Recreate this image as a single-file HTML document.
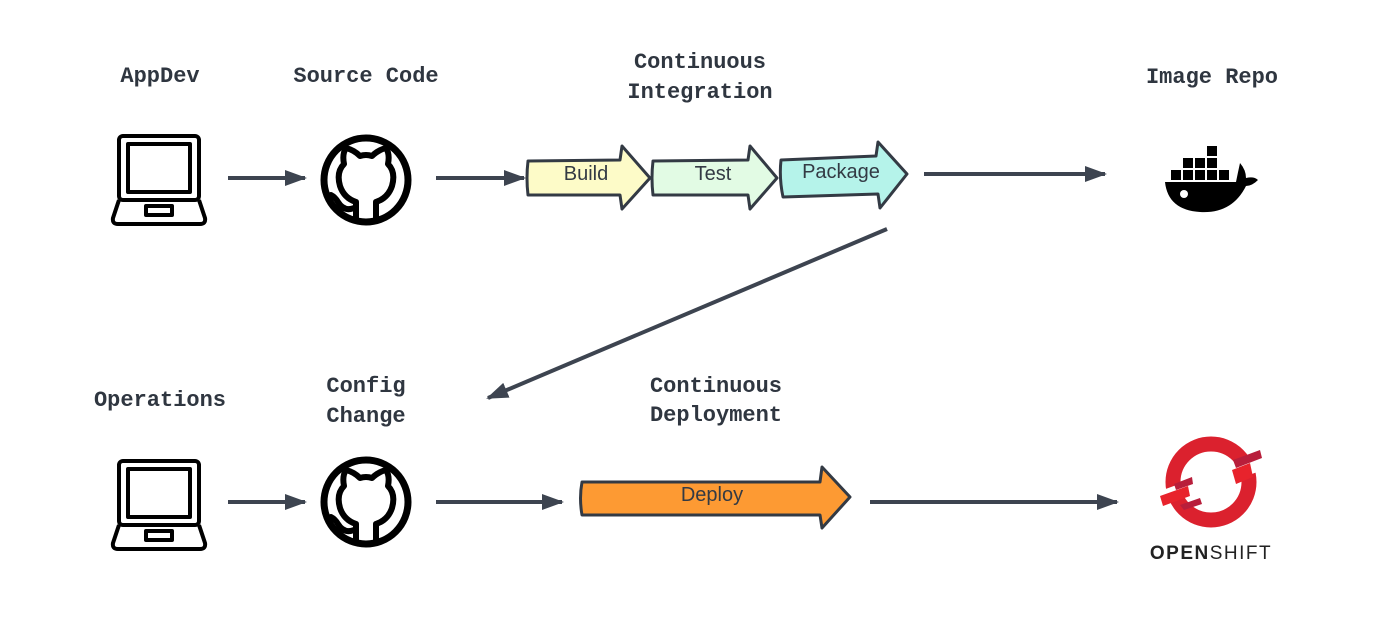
<!DOCTYPE html>
<html><head><style>body{margin:0;background:#fff}svg{display:block}</style></head><body>
<svg width="1388" height="628" viewBox="0 0 1388 628" xmlns="http://www.w3.org/2000/svg">
<defs>
<marker id="ah" markerWidth="22" markerHeight="16" refX="20" refY="8" orient="auto" markerUnits="userSpaceOnUse" viewBox="0 0 22 16"><path d="M0,0 L22,8 L0,16z" fill="#3d4450"/></marker>
<g id="laptop" fill="none" stroke="#000" stroke-width="4" stroke-linejoin="round">
<rect x="8" y="2" width="80" height="64" rx="4"/>
<rect x="17" y="10" width="62" height="48"/>
<path d="M8,66 L2,84 Q1,90 7,90 L89,90 Q95,90 94,84 L88,66"/>
<rect x="35" y="72" width="26" height="9"/>
</g>
<g id="gh">
<circle cx="0" cy="0" r="42" fill="none" stroke="#000" stroke-width="7"/>
<path d="M-10,40 L-10,22 Q-22,18 -26,6 Q-30,-8 -22,-16 Q-24,-26 -20,-32 Q-12,-30 -6,-24 Q0,-26 6,-24 Q12,-30 20,-32 Q24,-26 22,-16 Q30,-8 26,6 Q22,18 10,22 L10,40" fill="none" stroke="#000" stroke-width="6" stroke-linejoin="round"/>
<path d="M-12,28 Q-22,32 -28,22 Q-31,17 -35,15" fill="none" stroke="#000" stroke-width="6" stroke-linecap="round"/>
</g>
</defs>
<g font-family="Liberation Mono, monospace" font-weight="bold" font-size="22" fill="#2f3640" text-anchor="middle">
<text x="160" y="82">AppDev</text>
<text x="366" y="82">Source Code</text>
<text x="700" y="68">Continuous</text>
<text x="700" y="98">Integration</text>
<text x="1212" y="83">Image Repo</text>
<text x="160" y="406">Operations</text>
<text x="366" y="392">Config</text>
<text x="366" y="422">Change</text>
<text x="716" y="392">Continuous</text>
<text x="716" y="421">Deployment</text>
</g>
<use href="#laptop" x="111" y="134"/>
<use href="#laptop" x="111" y="459"/>
<use href="#gh" x="366" y="180"/>
<use href="#gh" x="366" y="502"/>
<g stroke="#3d4450" stroke-width="4" fill="none" marker-end="url(#ah)">
<line x1="228" y1="178" x2="305" y2="178"/>
<line x1="436" y1="178" x2="524" y2="178"/>
<line x1="924" y1="174" x2="1105" y2="174"/>
<line x1="887" y1="229" x2="488" y2="398"/>
<line x1="228" y1="502" x2="305" y2="502"/>
<line x1="436" y1="502" x2="562" y2="502"/>
<line x1="870" y1="502" x2="1117" y2="502"/>
</g>
<g stroke="#333a44" stroke-width="3" stroke-linejoin="round">
<path d="M528,161 L620,160 L622,146 L650,178 L622,209 L620,195 L528,195 Q526,178 528,161z" fill="#fdfbc8"/>
<path d="M653,161 L748,160 L750,146 L777,178 L750,209 L748,195 L653,195 Q651,178 653,161z" fill="#e2fbe4"/>
<path d="M781,160 L876,156 L878,142 L907,174 L880,208 L878,194 L783,197 Q779,178 781,160z" fill="#b5f3ea"/>
<path d="M582,482 L820,482 L822,467 L850,497 L822,528 L820,515 L582,515 Q579,498 582,482z" fill="#fd9a33"/>
</g>
<g font-family="Liberation Sans, sans-serif" font-size="20" fill="#333a44" text-anchor="middle">
<text x="586" y="180">Build</text>
<text x="713" y="180">Test</text>
<text x="841" y="178">Package</text>
<text x="712" y="501">Deploy</text>
</g>
<!-- docker -->
<g fill="#000">
<rect x="1207" y="146" width="10" height="10"/>
<rect x="1183" y="158" width="10" height="10"/><rect x="1195" y="158" width="10" height="10"/><rect x="1207" y="158" width="10" height="10"/>
<rect x="1171" y="170" width="10" height="10"/><rect x="1183" y="170" width="10" height="10"/><rect x="1195" y="170" width="10" height="10"/><rect x="1207" y="170" width="10" height="10"/><rect x="1219" y="170" width="10" height="10"/>
<path d="M1165,182 L1236,182 Q1238,172 1240,163 Q1246,170 1246,178 Q1254,176 1258,180 Q1252,186 1246,186 Q1232,214 1200,212 Q1168,210 1165,182z"/>
</g>
<circle cx="1184" cy="194" r="4" fill="#fff"/>
<!-- openshift -->
<circle cx="1211" cy="482" r="38" fill="none" stroke="#db212e" stroke-width="15"/>
<rect x="1230" y="462" width="34" height="14" fill="#fff" transform="rotate(-20 1245 469)"/>
<rect x="1158" y="486" width="34" height="14" fill="#fff" transform="rotate(-20 1175 493)"/>
<path d="M1233,460 L1260,450 L1262,458 L1236,468z" fill="#b81e3b"/>
<path d="M1232,470 L1250,463 L1253,477 L1236,484z" fill="#e8232c"/>
<path d="M1160,496 L1188,486 L1190,496 L1163,506z" fill="#e8232c"/>
<path d="M1174,484 L1192,477 L1193,484 L1176,490z" fill="#b81e3b"/>
<path d="M1180,505 L1200,498 L1202,504 L1184,510z" fill="#b81e3b"/>
<text x="1211" y="559" text-anchor="middle" font-family="Liberation Sans, sans-serif" font-size="19" fill="#222" letter-spacing="1.5"><tspan font-weight="bold">OPEN</tspan>SHIFT</text>
</svg>
</body></html>
